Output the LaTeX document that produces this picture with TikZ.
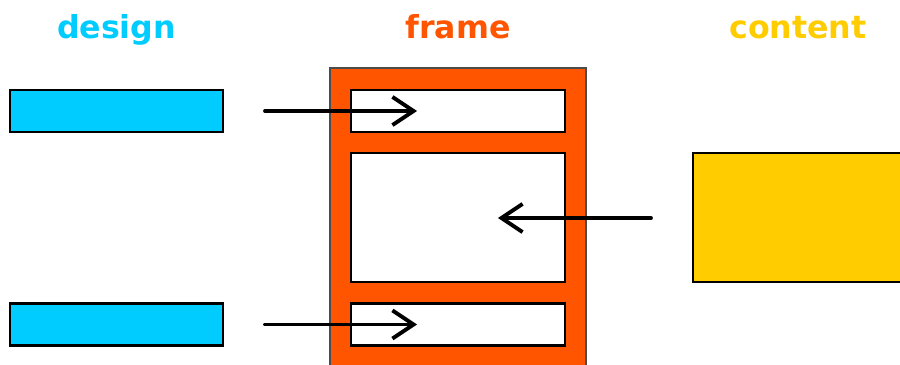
\documentclass[tikz,border=0pt]{standalone}
\usepackage{fontspec}
\setmainfont{DejaVu Sans}
\usetikzlibrary{arrows.meta}

\definecolor{designblue}{HTML}{00CCFF}
\definecolor{frameorange}{HTML}{FF5500}
\definecolor{contentyellow}{HTML}{FFCC00}

\begin{document}
\begin{tikzpicture}[x=0.02cm, y=-0.02cm, >={Straight Barb[length=12pt, width=16pt, line width=2.2pt]}]
\tikzset{
  box/.style={rectangle, draw=black, line width=1.4pt, inner sep=0pt},
  title/.style={anchor=base, font=\fontsize{18}{20}\selectfont\bfseries},
  link/.style={->, line width=2.2pt, line cap=round}
}
\useasboundingbox (0,0) rectangle (900,365);
\clip (0,0) rectangle (900,365);

% Les titres
\node[title, text=designblue] (tD) at (116.5,38) {design};
\node[title, text=frameorange] (tF) at (458,38) {frame};
\node[title, text=contentyellow] (tC) at (798,38) {content};

% Les blocs design
\foreach \y [count=\di] in {111,324.5}
\node[box, fill=designblue, minimum width=4.26cm, minimum height=0.84cm] (D\di) at (116.5,\y) {};

% Le cadre et ses zones
\node[box, draw=black!70, fill=frameorange, minimum width=5.12cm, minimum height=6cm] (F) at (458,218) {};
\node[box, fill=white, minimum width=4.28cm, minimum height=0.84cm] (Ftop) at (458,111) {};
\node[box, fill=white, minimum width=4.28cm, minimum height=2.58cm] (Fmid) at (458,217.5) {};
\node[box, fill=white, minimum width=4.28cm, minimum height=0.84cm] (Fbot) at (458,324.5) {};

% Le contenu
\node[box, fill=contentyellow, minimum width=4.6cm, minimum height=2.58cm] (C) at (808,217.5) {};

% Les flèches
\coordinate (a1) at (265,111);
\coordinate (a2) at (265,324.5);
\coordinate (a3) at (651,218);
\draw[link] (a1) -- ([xshift=-0.82cm]Ftop.center);
\draw[link] (a2) -- ([xshift=-0.82cm]Fbot.center);
\draw[link] (a3) -- ([xshift=0.8cm]Fmid.center |- a3);

\end{tikzpicture}
\end{document}
